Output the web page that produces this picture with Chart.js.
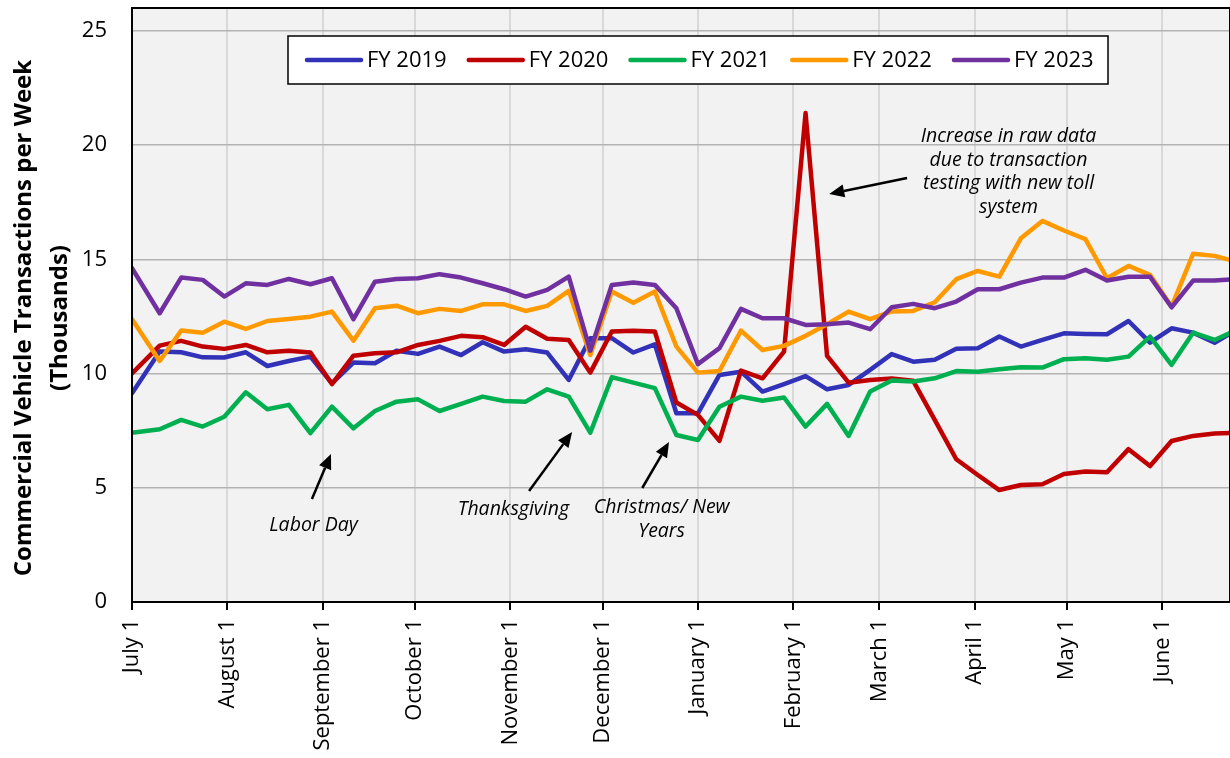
<!DOCTYPE html>
<html lang="en">
<head>
  <meta charset="UTF-8">
  <title>Commercial Vehicle Transactions per Week</title>
  <script src="https://cdn.jsdelivr.net/npm/chart.js@4.4.1/dist/chart.umd.min.js"></script>
  <style>
    html, body { margin: 0; padding: 0; background: #fff; }
    #wrap { width: 1230px; height: 758px; }
  </style>
</head>
<body>

<div id="wrap"><canvas id="chart" width="1230" height="758"></canvas></div>

<script>
  // x positions in days since July 1 (one point per week)
  const weekDays = [0, 9, 16, 23, 30, 37, 44, 51, 58, 65, 72, 79, 86, 93, 100, 107, 114, 121, 128, 135,
    142, 149, 156, 163, 170, 177, 184, 191, 198, 205, 212, 219, 226, 233, 240, 247, 254, 261, 268, 275,
    282, 289, 296, 303, 310, 317, 324, 331, 338, 345, 352, 359];

  const monthDays = [0, 31, 62, 92, 123, 153, 184, 215, 243, 274, 304, 335];
  const monthLabels = ['July 1', 'August 1', 'September 1', 'October 1', 'November 1', 'December 1',
    'January 1', 'February 1', 'March 1', 'April 1', 'May 1', 'June 1'];
  const yTicks = [0, 5, 10, 15, 20, 25];

  const seriesNames = ['FY 2019', 'FY 2020', 'FY 2021', 'FY 2022', 'FY 2023'];
  const seriesColors = ['#3232B8', '#C00000', '#00B050', '#FF9900', '#7030A0'];

  const fy2019 = [9.14, 10.96, 10.93, 10.71, 10.70, 10.93, 10.33, 10.55, 10.74, 9.57, 10.48, 10.45, 11.00,
    10.86, 11.18, 10.81, 11.37, 10.96, 11.06, 10.92, 9.72, 11.55, 11.55, 10.92, 11.28, 8.26, 8.26, 9.94,
    10.08, 9.21, 9.54, 9.89, 9.31, 9.50, 10.16, 10.85, 10.52, 10.60, 11.08, 11.11, 11.62, 11.18, 11.47,
    11.76, 11.73, 11.72, 12.30, 11.35, 11.98, 11.79, 11.35, 11.90];
  const fy2020 = [10.01, 11.22, 11.43, 11.18, 11.08, 11.25, 10.93, 11.00, 10.92, 9.54, 10.78, 10.89, 10.93,
    11.25, 11.43, 11.65, 11.59, 11.25, 12.05, 11.52, 11.47, 10.04, 11.84, 11.87, 11.84, 8.73, 8.19, 7.05,
    10.13, 9.79, 10.96, 21.40, 10.77, 9.60, 9.72, 9.78, 9.68, 7.97, 6.25, 5.56, 4.90, 5.12, 5.15,
    5.60, 5.71, 5.68, 6.69, 5.95, 7.05, 7.27, 7.38, 7.41];
  const fy2021 = [7.41, 7.56, 7.97, 7.68, 8.11, 9.18, 8.44, 8.63, 7.39, 8.55, 7.60, 8.36, 8.77,
    8.87, 8.36, 8.67, 8.99, 8.80, 8.77, 9.31, 8.99, 7.41, 9.84, 9.60, 9.36, 7.31, 7.09, 8.55,
    8.99, 8.81, 8.95, 7.68, 8.67, 7.27, 9.21, 9.70, 9.65, 9.79, 10.11, 10.08, 10.19, 10.28, 10.26,
    10.63, 10.67, 10.60, 10.74, 11.62, 10.38, 11.79, 11.47, 11.90];
  const fy2022 = [12.38, 10.55, 11.88, 11.79, 12.27, 11.95, 12.30, 12.39, 12.49, 12.71, 11.44, 12.86, 12.97,
    12.64, 12.83, 12.74, 13.03, 13.03, 12.74, 12.96, 13.62, 10.81, 13.59, 13.10, 13.59, 11.18, 10.04, 10.11,
    11.88, 11.03, 11.21, 11.65, 12.16, 12.71, 12.38, 12.72, 12.74, 13.12, 14.13, 14.49, 14.24, 15.92, 16.68,
    16.26, 15.88, 14.17, 14.71, 14.32, 12.93, 15.24, 15.15, 14.90];
  const fy2023 = [14.61, 12.64, 14.20, 14.10, 13.37, 13.95, 13.88, 14.14, 13.91, 14.17, 12.38, 14.02, 14.14,
    14.17, 14.35, 14.20, 13.95, 13.69, 13.37, 13.66, 14.24, 11.00, 13.88, 13.98, 13.88, 12.86, 10.41, 11.11,
    12.83, 12.42, 12.42, 12.13, 12.16, 12.23, 11.94, 12.90, 13.05, 12.86, 13.15, 13.69, 13.69, 13.98, 14.20,
    14.20, 14.54, 14.07, 14.24, 14.24, 12.90, 14.07, 14.07, 14.13];

  // annotation texts (day, value of first line centre) and arrows (from -> to, in day/value)
  const notes = [
    { lines: ['Labor Day'], day: 59, val: 3.37 },
    { lines: ['Thanksgiving'], day: 124, val: 4.07 },
    { lines: ['Christmas/ New', 'Years'], day: 172.2, val: 4.12 },
    { lines: ['Increase in raw data', 'due to transaction', 'testing with new toll', 'system'], day: 285, val: 20.36 }
  ];
  const arrows = [
    { from: [58.5, 4.51], to: [64.7, 6.48] },
    { from: [129.1, 4.86], to: [143.1, 7.44] },
    { from: [165.9, 4.99], to: [174.6, 7.0] },
    { from: [252, 18.56], to: [226.7, 17.86] }
  ];

  const FONT = "'Open Sans', sans-serif";
  Chart.defaults.font.family = FONT;
  Chart.defaults.color = '#000';

  const allSeries = [fy2019, fy2020, fy2021, fy2022, fy2023];

  const extras = {
    id: 'extras',
    beforeDraw(chart) {
      const { ctx, chartArea: a } = chart;
      ctx.save();
      ctx.fillStyle = '#fff';
      ctx.fillRect(0, 0, chart.width, chart.height);
      ctx.fillStyle = '#f2f2f2';
      ctx.fillRect(a.left, a.top, a.right - a.left, a.bottom - a.top);
      ctx.restore();
    },
    afterDraw(chart) {
      const { ctx, chartArea: a } = chart;
      const xs = chart.scales.x, ys = chart.scales.y;
      ctx.save();

      // frame
      ctx.strokeStyle = '#000';
      ctx.lineWidth = 2;
      ctx.strokeRect(a.left, a.top, a.right - a.left, a.bottom - a.top);

      // y axis title
      ctx.font = 'bold 24px ' + FONT;
      ctx.textAlign = 'center';
      ctx.textBaseline = 'middle';
      ctx.fillStyle = '#000';
      ctx.save();
      ctx.translate(24, 318);
      ctx.rotate(-Math.PI / 2);
      ctx.fillText('Commercial Vehicle Transactions per Week', 0, 0);
      ctx.fillText('(Thousands)', 0, 36);
      ctx.restore();

      // legend
      ctx.fillStyle = '#fff';
      ctx.fillRect(288, 36, 820, 48);
      ctx.lineWidth = 1.5;
      ctx.strokeRect(288, 36, 820, 48);
      ctx.font = '22px ' + FONT;
      ctx.textAlign = 'left';
      chart.data.datasets.forEach((ds, i) => {
        const x0 = 307 + i * 161.75;
        ctx.strokeStyle = ds.borderColor;
        ctx.lineWidth = 4.5;
        ctx.lineCap = 'round';
        ctx.beginPath();
        ctx.moveTo(x0, 60);
        ctx.lineTo(x0 + 54, 60);
        ctx.stroke();
        ctx.fillStyle = '#000';
        ctx.fillText(ds.label, x0 + 60, 61);
      });

      // notes
      ctx.font = 'italic 19.5px ' + FONT;
      ctx.textAlign = 'center';
      ctx.fillStyle = '#000';
      notes.forEach(n => {
        const x = xs.getPixelForValue(n.day);
        const y = ys.getPixelForValue(n.val);
        n.lines.forEach((t, k) => ctx.fillText(t, x, y + k * 23.5));
      });

      // arrows
      ctx.strokeStyle = '#000';
      ctx.lineCap = 'butt';
      arrows.forEach(ar => {
        const x1 = xs.getPixelForValue(ar.from[0]), y1 = ys.getPixelForValue(ar.from[1]);
        const x2 = xs.getPixelForValue(ar.to[0]), y2 = ys.getPixelForValue(ar.to[1]);
        const ang = Math.atan2(y2 - y1, x2 - x1);
        const hl = 15, hw = 6.5;
        const bx = x2 - hl * Math.cos(ang), by = y2 - hl * Math.sin(ang);
        ctx.lineWidth = 2.5;
        ctx.beginPath();
        ctx.moveTo(x1, y1);
        ctx.lineTo(bx, by);
        ctx.stroke();
        ctx.beginPath();
        ctx.moveTo(x2, y2);
        ctx.lineTo(bx + hw * Math.sin(ang), by - hw * Math.cos(ang));
        ctx.lineTo(bx - hw * Math.sin(ang), by + hw * Math.cos(ang));
        ctx.closePath();
        ctx.fill();
      });

      ctx.restore();
    }
  };

  new Chart(document.getElementById('chart'), {
    type: 'line',
    data: {
      datasets: allSeries.map((s, i) => ({
        label: seriesNames[i],
        data: s.map((v, k) => ({ x: weekDays[k], y: v })),
        borderColor: seriesColors[i],
        backgroundColor: seriesColors[i],
        order: 5 - i
      }))
    },
    options: {
      responsive: false,
      animation: false,
      devicePixelRatio: 1,
      layout: { padding: { top: 8, left: 0, right: 0, bottom: 0 } },
      elements: {
        line: { tension: 0, borderWidth: 4.5, borderJoinStyle: 'round', borderCapStyle: 'round' },
        point: { radius: 0, hoverRadius: 0 }
      },
      plugins: { legend: { display: false }, tooltip: { enabled: false } },
      scales: {
        x: {
          type: 'linear',
          min: 0,
          max: 357,
          afterBuildTicks: scale => { scale.ticks = monthDays.map(d => ({ value: d })); },
          afterFit: scale => { scale.height = 156; scale.paddingLeft = 0; scale.paddingRight = 0; },
          ticks: {
            callback: (v, i) => monthLabels[i],
            maxRotation: 90,
            minRotation: 90,
            padding: 9,
            font: { size: 22 }
          },
          grid: { color: '#d9d9d9', lineWidth: 2, tickColor: '#000', tickLength: 8, tickWidth: 2 },
          border: { color: '#000', width: 2 }
        },
        y: {
          min: 0,
          max: 26,
          afterBuildTicks: scale => { scale.ticks = yTicks.map(v => ({ value: v })); },
          afterFit: scale => { scale.width = 132; scale.paddingTop = 0; scale.paddingBottom = 0; },
          ticks: { padding: 25, font: { size: 22 } },
          grid: { color: '#b3b3b3', lineWidth: 1.5, drawTicks: false },
          border: { color: '#000', width: 2 }
        }
      }
    },
    plugins: [extras]
  });
</script>

</body>
</html>
